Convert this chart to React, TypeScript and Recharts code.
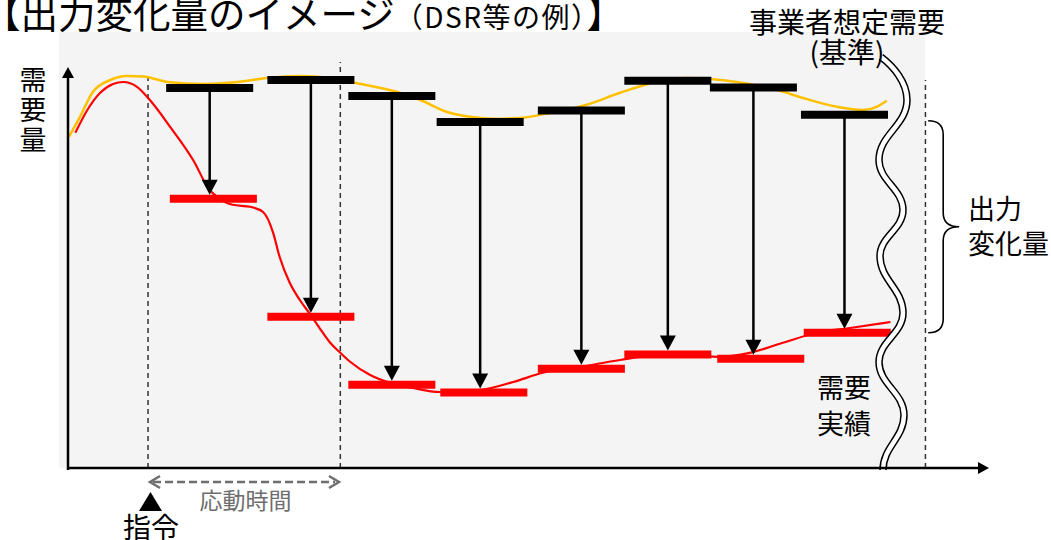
import React from 'react';
import {
  ComposedChart,
  Line,
  XAxis,
  YAxis,
  ReferenceLine,
  ReferenceArea,
} from 'recharts';

// ---- data (time axis 0-100, demand axis 0-100) ----
const slotT = [15.4, 26.4, 35.2, 44.8, 55.8, 65.2, 74.5, 84.4];
const planned = [95.0, 97.0, 93.0, 86.5, 89.4, 96.8, 95.1, 88.3];
const actualT = [15.8, 26.4, 35.2, 45.2, 55.8, 65.2, 75.3, 84.7];
const actual = [67.3, 37.8, 20.8, 18.9, 24.8, 28.4, 27.3, 33.8];

const baseCurveT = [0.1, 1.3, 2.7, 4.6, 6.4, 8.2, 10.8, 14.7, 18.4, 21.6, 25.2, 28.5, 31.2, 35.8, 38.3, 41.2, 43.7, 46.4, 49.1, 52.4, 56.4, 60.0, 63.6, 67.3, 72.7, 77.4, 79.9, 83.6, 86.4, 87.9, 89.0];
const baseCurveV = [82.8, 87.8, 94.0, 97.0, 98.0, 97.9, 96.5, 96.0, 96.5, 97.5, 98.0, 97.5, 96.3, 94.0, 92.0, 89.0, 87.8, 87.3, 87.5, 88.8, 90.8, 93.8, 96.3, 97.5, 96.5, 94.3, 92.5, 90.3, 89.5, 90.3, 91.8];

const actCurveT = [0.8, 2.1, 3.5, 4.9, 6.0, 7.5, 8.9, 11.1, 13.6, 15.4, 16.2, 17.9, 19.8, 21.2, 22.3, 23.0, 24.1, 25.2, 26.3, 27.4, 28.5, 29.6, 30.7, 32.8, 35.0, 37.5, 40.4, 44.8, 48.4, 51.6, 55.7, 60.0, 63.3, 68.7, 70.5, 74.1, 77.7, 81.4, 85.0, 89.4];
const actCurveV = [83.8, 89.5, 93.8, 96.0, 96.5, 95.3, 92.0, 85.3, 77.0, 69.5, 67.8, 65.8, 65.3, 64.0, 58.8, 52.8, 46.3, 42.0, 38.5, 34.8, 31.3, 28.8, 26.5, 23.3, 21.3, 20.0, 19.0, 19.5, 21.5, 23.8, 25.3, 27.0, 28.0, 28.0, 27.8, 28.8, 31.3, 33.8, 35.0, 36.5];

const commandT = 8.7;
const responseEndT = 29.6;
const breakT = 93.2;
const braceT = 93.5;

const titleMain = '【出力変化量のイメージ';
const titleSub = '（DSR等の例）';
const titleEnd = '】';
const xLabels = { command: '指令', response: '応動時間' };

// ---- style constants ----
const BAR_W = 9.46;
const BAR_H = 8;
const FONT = '"Noto Sans CJK JP", "Noto Sans", sans-serif';
const ORANGE = '#FFC000';
const RED = '#FF0000';

const baseData = baseCurveT.map((t, i) => ({ t, v: baseCurveV[i] }));
const actData = actCurveT.map((t, i) => ({ t, v: actCurveV[i] }));

const barShape = (color: string) => (p: any) => (
  <line x1={p.x1} y1={p.y1} x2={p.x2} y2={p.y2} stroke={color} strokeWidth={BAR_H} strokeLinecap="butt" />
);

const arrowShape = (p: any) => {
  const tipY = p.y2 - BAR_H / 2;
  const headH = 15;
  const headW = 8;
  return (
    <g>
      <line x1={p.x1} y1={p.y1} x2={p.x2} y2={tipY - headH + 1} stroke="#000" strokeWidth={2.5} />
      <polygon points={`${p.x2 - headW},${tipY - headH} ${p.x2 + headW},${tipY - headH} ${p.x2},${tipY}`} fill="#000" />
    </g>
  );
};

const dashShape = (p: any) => (
  <line x1={p.x1} y1={p.y1} x2={p.x2} y2={p.y2} stroke="#333" strokeWidth={1.5} strokeDasharray="5 4" />
);

const braceShape = (p: any) => {
  const x = p.x1;
  const top = p.y1 + 6;
  const bot = p.y2;
  const mid = (top + bot) / 2;
  const w = 15;
  const r = 14;
  const d = `M ${x} ${top} Q ${x + w} ${top} ${x + w} ${top + r} L ${x + w} ${mid - r} Q ${x + w} ${mid} ${x + w + 16} ${mid} Q ${x + w} ${mid} ${x + w} ${mid + r} L ${x + w} ${bot - r} Q ${x + w} ${bot} ${x} ${bot}`;
  return <path d={d} fill="none" stroke="#000" strokeWidth={1.6} />;
};

const wavePts: [number, number][] = [
  [907, 100], [879, 160], [903, 210], [880, 256], [903, 313], [879, 362], [904, 415], [883, 470],
];
const buildWave = () => {
  let d = `M 881 57 C 893 66, 907 82, 907 100`;
  for (let i = 1; i < wavePts.length; i++) {
    const [x0, y0] = wavePts[i - 1];
    const [x1, y1] = wavePts[i];
    const dy = y1 - y0;
    d += ` C ${x0} ${y0 + dy * 0.42}, ${x1} ${y1 - dy * 0.42}, ${x1} ${y1}`;
  }
  return d;
};

const Overlay = () => {
  const wave = buildWave();
  return (
    <svg width={1051} height={540} style={{ position: 'absolute', left: 0, top: 0, pointerEvents: 'none' }} fontFamily={FONT}>
      {/* wavy break */}
      <path d={wave} fill="none" stroke="#000" strokeWidth={7.5} />
      <path d={wave} fill="none" stroke="#fff" strokeWidth={4.5} />
      {/* axes */}
      <line x1={68} y1={470} x2={68} y2={76} stroke="#000" strokeWidth={2.5} />
      <polygon points="62,78 74,78 68,67" fill="#000" />
      <line x1={67} y1={468} x2={980} y2={468} stroke="#000" strokeWidth={2.5} />
      <polygon points="978,462 978,474 989,468" fill="#000" />
      {/* title */}
      <text x={-17} y={28} fontSize={37.5} fill="#000">
        {titleMain}
        <tspan fontSize={28} letterSpacing={1.5}>{titleSub}</tspan>
        {titleEnd}
      </text>
      <text x={847} y={33} fontSize={28} textAnchor="middle" fill="#000">事業者想定需要</text>
      <text x={847} y={63} fontSize={28} textAnchor="middle" fill="#000">(基準)</text>
      {/* y label */}
      <text x={33} y={90} fontSize={27} textAnchor="middle" fill="#000">需</text>
      <text x={33} y={120} fontSize={27} textAnchor="middle" fill="#000">要</text>
      <text x={33} y={150} fontSize={27} textAnchor="middle" fill="#000">量</text>
      {/* right labels */}
      <text x={968} y={219} fontSize={27} fill="#000">出力</text>
      <text x={968} y={254} fontSize={27} fill="#000">変化量</text>
      <text x={817} y={398} fontSize={27} fill="#000">需要</text>
      <text x={817} y={434} fontSize={27} fill="#000">実績</text>
      {/* bottom */}
      <line x1={153} y1={482} x2={335} y2={482} stroke="#6e6e6e" strokeWidth={2.5} strokeDasharray="8 4" />
      <path d="M 160 476 L 150 482 L 160 488" fill="none" stroke="#6e6e6e" strokeWidth={2.5} />
      <path d="M 329 476 L 339 482 L 329 488" fill="none" stroke="#6e6e6e" strokeWidth={2.5} />
      <text x={245.5} y={509} fontSize={23} textAnchor="middle" fill="#6e6e6e">{xLabels.response}</text>
      <polygon points="139,511 162,511 150.5,492" fill="#000" />
      <text x={151} y={538} fontSize={28} textAnchor="middle" fill="#000">{xLabels.command}</text>
    </svg>
  );
};

export default function App() {
  return (
    <div style={{ position: 'absolute', left: 0, top: 0, width: 1051, height: 540, background: '#fff' }}>
      <ComposedChart width={1051} height={540} margin={{ top: 68, right: 63, bottom: 72, left: 68 }}>
        <XAxis type="number" dataKey="t" domain={[0, 100]} hide allowDataOverflow />
        <YAxis type="number" domain={[0, 100]} hide allowDataOverflow />
        <ReferenceArea x1={-0.98} x2={breakT} y1={0} y2={109} fill="#f4f4f4" fillOpacity={1} stroke="none" ifOverflow="visible" />
        <ReferenceLine segment={[{ x: commandT, y: 0 }, { x: commandT, y: 99 }]} shape={dashShape} ifOverflow="visible" />
        <ReferenceLine segment={[{ x: responseEndT, y: 0 }, { x: responseEndT, y: 101.5 }]} shape={dashShape} ifOverflow="visible" />
        <ReferenceLine segment={[{ x: breakT, y: 0 }, { x: breakT, y: 97 }]} shape={dashShape} ifOverflow="visible" />
        <Line data={baseData} dataKey="v" type="monotone" stroke={ORANGE} strokeWidth={2.5} dot={false} activeDot={false} isAnimationActive={false} />
        <Line data={actData} dataKey="v" type="monotone" stroke={RED} strokeWidth={2.2} dot={false} activeDot={false} isAnimationActive={false} />
        {slotT.map((t, i) => (
          <ReferenceLine key={`b${i}`} segment={[{ x: t - BAR_W / 2, y: planned[i] }, { x: t + BAR_W / 2, y: planned[i] }]} shape={barShape('#000')} ifOverflow="visible" />
        ))}
        {actualT.map((t, i) => (
          <ReferenceLine key={`r${i}`} segment={[{ x: t - BAR_W / 2, y: actual[i] }, { x: t + BAR_W / 2, y: actual[i] }]} shape={barShape(RED)} ifOverflow="visible" />
        ))}
        {slotT.map((t, i) => (
          <ReferenceLine key={`a${i}`} segment={[{ x: t, y: planned[i] }, { x: t, y: actual[i] }]} shape={arrowShape} ifOverflow="visible" />
        ))}
        <ReferenceLine segment={[{ x: braceT, y: planned[7] }, { x: braceT, y: actual[7] }]} shape={braceShape} ifOverflow="visible" />
      </ComposedChart>
      <Overlay />
    </div>
  );
}
